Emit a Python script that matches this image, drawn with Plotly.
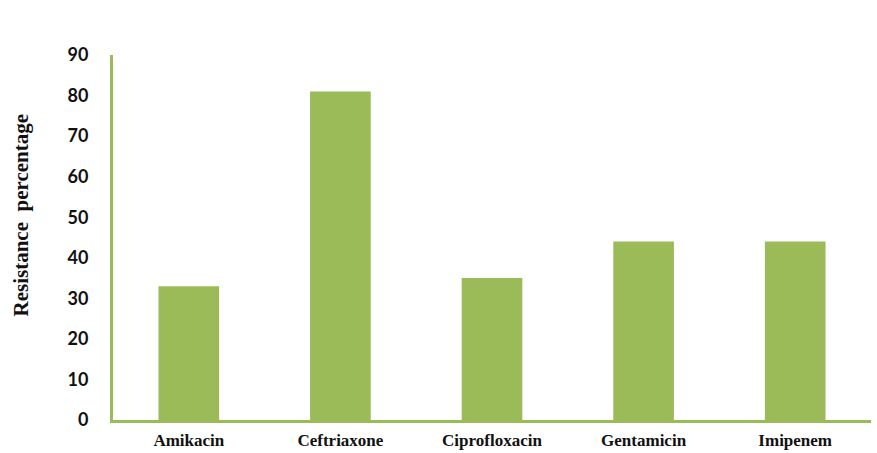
import plotly.graph_objects as go

antibiotics = ["Amikacin", "Ceftriaxone", "Ciprofloxacin", "Gentamicin", "Imipenem"]
resistance_pct = [33, 81, 35, 44, 44]
y_ticks = [0, 10, 20, 30, 40, 50, 60, 70, 80, 90]

green = "#9BBB59"

fig = go.Figure(
    go.Bar(
        x=antibiotics,
        y=resistance_pct,
        marker=dict(color=green, line=dict(width=0)),
        width=0.4,
    )
)

fig.update_layout(
    width=877,
    height=453,
    margin=dict(l=113, r=6, t=55, b=33),
    paper_bgcolor="white",
    plot_bgcolor="white",
    showlegend=False,
    bargap=0.6,
)

fig.update_xaxes(
    automargin=False,
    showline=True,
    linecolor=green,
    linewidth=3,
    showgrid=False,
    ticks="",
    ticklabelstandoff=3,
    tickfont=dict(family="Liberation Serif", size=17, color="#111111", weight="bold"),
)

fig.update_yaxes(
    automargin=False,
    range=[0, 90],
    tickvals=y_ticks,
    showline=True,
    linecolor=green,
    linewidth=3,
    showgrid=False,
    zeroline=False,
    ticks="",
    ticklabelstandoff=18,
    tickfont=dict(family="Lato", size=18, color="#111111", weight="bold"),
)

# Rotated y-axis title placed beside the tick labels
fig.add_annotation(
    text="Resistance  percentage",
    xref="paper", yref="paper",
    x=0, y=0.5,
    xanchor="center", yanchor="middle",
    xshift=-93,
    yshift=22,
    textangle=-90,
    showarrow=False,
    font=dict(family="Liberation Serif", size=21, color="#111111", weight="bold"),
)

fig.write_html("out.html")
